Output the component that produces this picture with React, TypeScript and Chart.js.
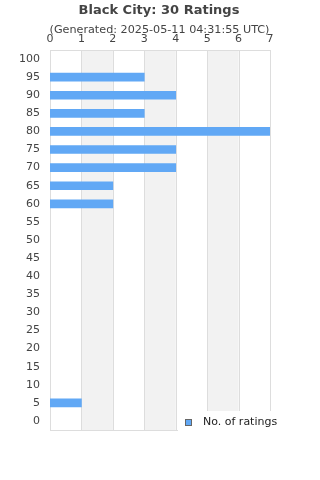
import React, { useEffect, useRef } from "react";
import { Chart, registerables } from "chart.js";

Chart.register(...registerables);

const categories = ["100","95","90","85","80","75","70","65","60","55","50","45","40","35","30","25","20","15","10","5","0"];
const ratings = [0,3,4,3,7,4,4,2,2,0,0,0,0,0,0,0,0,0,0,1,0];
const xTicks = [0,1,2,3,4,5,6,7];
const titleText = "Black City: 30 Ratings";
const subtitleText = "(Generated: 2025-05-11 04:31:55 UTC)";
const legendLabel = "No. of ratings";

const FONT = "'DejaVu Sans', sans-serif";
const BAR = "#61a8f5";

const decor = {
  id: "decor",
  beforeDatasetsDraw(chart: any) {
    const { ctx, chartArea, scales } = chart;
    const x = scales.x;
    ctx.save();
    ctx.fillStyle = "#f2f2f2";
    for (let i = 1; i < 7; i += 2) {
      const a = x.getPixelForValue(i);
      const b = x.getPixelForValue(i + 1);
      ctx.fillRect(a, chartArea.top, b - a, chartArea.bottom - chartArea.top);
    }
    ctx.strokeStyle = "#dddddd";
    ctx.lineWidth = 1;
    for (const t of xTicks) {
      const p = Math.round(x.getPixelForValue(t)) + 0.5;
      ctx.beginPath();
      ctx.moveTo(p, chartArea.top);
      ctx.lineTo(p, chartArea.bottom);
      ctx.stroke();
    }
    ctx.beginPath();
    ctx.moveTo(chartArea.left, Math.round(chartArea.top) + 0.5);
    ctx.lineTo(chartArea.right, Math.round(chartArea.top) + 0.5);
    ctx.moveTo(chartArea.left, Math.round(chartArea.bottom) + 0.5);
    ctx.lineTo(chartArea.right, Math.round(chartArea.bottom) + 0.5);
    ctx.stroke();
    ctx.restore();
  },
  afterDraw(chart: any) {
    const { ctx } = chart;
    ctx.save();
    ctx.fillStyle = "#444444";
    ctx.textAlign = "center";
    ctx.textBaseline = "middle";
    ctx.font = `bold 13px ${FONT}`;
    ctx.fillText(titleText, 159, 11);
    ctx.font = `11.2px ${FONT}`;
    ctx.fillText(subtitleText, 159.5, 30);
    // legend
    ctx.fillStyle = "#ffffff";
    ctx.fillRect(178, 411, 142, 30);
    ctx.fillStyle = BAR;
    ctx.fillRect(185.5, 419.5, 6, 6);
    ctx.strokeStyle = "#666666";
    ctx.lineWidth = 1;
    ctx.strokeRect(185.5, 419.5, 6, 6);
    ctx.fillStyle = "#222222";
    ctx.textAlign = "left";
    ctx.font = `11px ${FONT}`;
    ctx.fillText(legendLabel, 203, 422.5);
    ctx.restore();
  },
};

export default function App() {
  const ref = useRef<HTMLCanvasElement>(null);
  useEffect(() => {
    document.body.style.margin = "0";
    const chart = new Chart(ref.current!, {
      type: "bar",
      data: {
        labels: categories,
        datasets: [
          {
            label: legendLabel,
            data: ratings.map((v) => (v === 0 ? null : v)),
            backgroundColor: BAR,
            borderWidth: 0,
            barThickness: 8,
          },
        ],
      },
      options: {
        indexAxis: "y",
        animation: false,
        responsive: false,
        layout: { padding: { top: 0, right: 50, bottom: 50, left: 0 } },
        plugins: { legend: { display: false }, title: { display: false }, tooltip: { enabled: false } },
        scales: {
          x: {
            position: "top",
            min: 0,
            max: 7,
            afterFit: (s: any) => { s.height = 50; },
            afterBuildTicks: (s: any) => { s.ticks = xTicks.map((v) => ({ value: v })); },
            grid: { display: false, drawTicks: false },
            border: { display: false },
            ticks: { color: "#444444", font: { family: FONT, size: 11 }, padding: 4 },
          },
          y: {
            afterFit: (s: any) => { s.width = 50; },
            grid: { display: false, drawTicks: false },
            border: { display: true, color: "#dddddd" },
            ticks: { color: "#444444", font: { family: FONT, size: 11 }, padding: 10, autoSkip: false },
          },
        },
      },
      plugins: [decor],
    });
    return () => chart.destroy();
  }, []);
  return <canvas ref={ref} width={320} height={480} style={{ display: "block" }} />;
}
